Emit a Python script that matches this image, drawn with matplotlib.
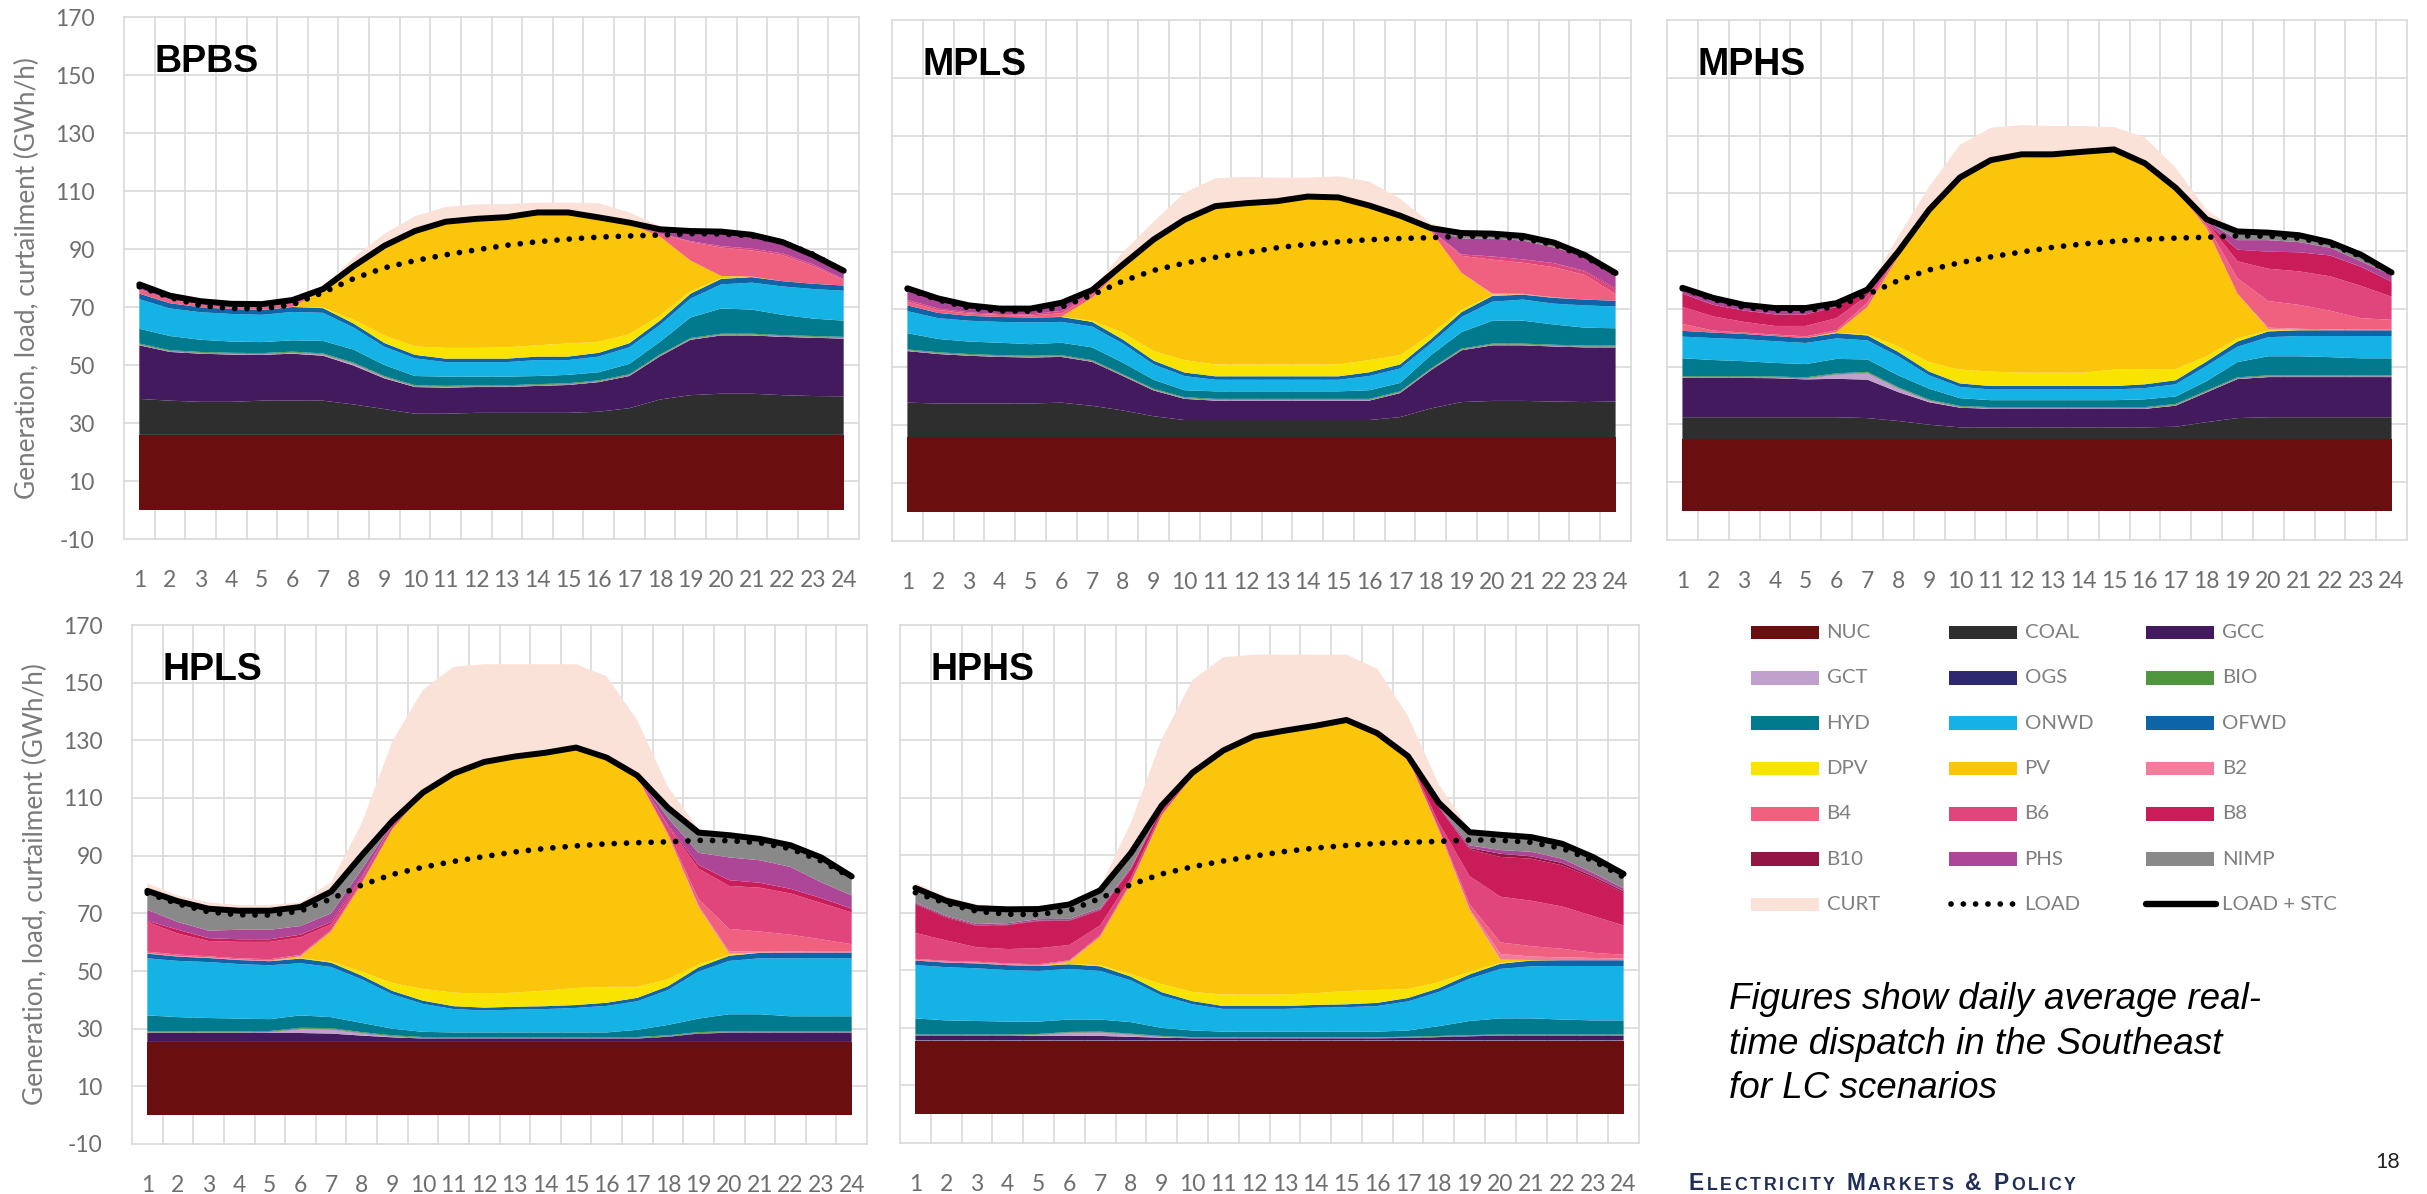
import numpy as np
import matplotlib
matplotlib.use("Agg")
import matplotlib.pyplot as plt
from matplotlib.patches import Rectangle
from matplotlib.lines import Line2D

plt.rcParams["axes.unicode_minus"] = False

W, H = 2427, 1194

HOURS = list(range(1, 25))
TECHS = ["NUC", "COAL", "GCC", "GCT", "OGS", "BIO", "HYD", "ONWD", "OFWD", "DPV", "PV",
         "B2", "B4", "B6", "B8", "B10", "PHS", "NIMP", "CURT"]
COLORS = ["#6b0e10", "#2e2e2e", "#441a5e", "#c0a0cc", "#2e2870", "#50963e", "#027a8e",
          "#15b2e5", "#0d64a6", "#f8e400", "#fbc50c", "#f37c9c", "#f0607f", "#e0457c",
          "#c91c59", "#921544", "#ae4698", "#898989", "#fbe2d8"]

# system load (same in every scenario)
LOAD = [77.0, 73.3, 70.5, 69.5, 69.4, 70.8, 75.0, 79.8, 83.5, 86.0, 88.0, 89.7,
        91.3, 92.5, 93.4, 94.1, 94.5, 94.8, 95.3, 95.2, 94.5, 92.4, 88.2, 82.4]

ZERO = [0] * 24

# ---- BPBS ----
bpbs_nuc = [25.9, 25.9, 25.9, 25.9, 25.9, 25.9, 25.9, 25.9, 25.9, 25.9, 25.9, 25.9,
            25.9, 25.9, 25.9, 25.9, 25.9, 25.9, 25.9, 25.9, 25.9, 25.9, 25.9, 25.9]
bpbs_coal = [12.4, 11.8, 11.4, 11.4, 11.8, 11.8, 11.8, 10.5, 8.9, 7.3, 7.3, 7.6,
             7.6, 7.6, 7.6, 8.0, 9.2, 12.2, 13.7, 14.2, 14.2, 13.7, 13.4, 13.3]
bpbs_gcc = [18.5, 16.8, 16.6, 16.3, 15.8, 16.2, 15.5, 13.4, 10.6, 9.2, 9.0, 8.9,
            8.9, 9.3, 9.6, 10.2, 11.1, 14.9, 19.1, 20.1, 20.1, 20.1, 20.1, 19.9]
bpbs_gct = [0.2, 0.2, 0.2, 0.2, 0.2, 0.3, 0.4, 0.6, 0.4, 0.2, 0.2, 0.2,
            0.2, 0.2, 0.2, 0.2, 0.2, 0.2, 0.2, 0.2, 0.2, 0.2, 0.2, 0.2]
bpbs_ogs = [0.1, 0.1, 0.1, 0.1, 0.1, 0.1, 0.1, 0.1, 0.1, 0.1, 0.1, 0.1,
            0.1, 0.1, 0.1, 0.1, 0.1, 0.1, 0.1, 0.1, 0.1, 0.1, 0.1, 0.1]
bpbs_bio = [0.3, 0.3, 0.3, 0.3, 0.3, 0.3, 0.3, 0.3, 0.3, 0.3, 0.3, 0.3,
            0.3, 0.3, 0.3, 0.3, 0.3, 0.3, 0.3, 0.3, 0.3, 0.3, 0.3, 0.3]
bpbs_hyd = [5.1, 4.9, 4.2, 3.9, 3.8, 3.9, 4.3, 4.5, 3.8, 3.2, 3.2, 3.0,
            3.0, 2.8, 2.9, 2.8, 3.6, 4.4, 7.1, 8.7, 8.3, 7.0, 6.0, 5.6]
bpbs_onwd = [10.2, 9.5, 9.5, 9.5, 9.4, 9.8, 9.7, 7.6, 6.3, 6.1, 5.0, 5.0,
             5.0, 5.5, 5.1, 5.4, 5.7, 5.8, 6.5, 8.3, 9.3, 9.8, 10.2, 10.3]
bpbs_ofwd = [1.9, 1.8, 1.7, 1.7, 1.7, 1.7, 1.6, 1.4, 1.3, 1.2, 1.2, 1.2,
             1.2, 1.2, 1.2, 1.3, 1.4, 1.5, 1.7, 1.9, 1.9, 1.8, 1.8, 1.8]
bpbs_dpv = [0, 0, 0, 0, 0, 0.1, 0.3, 1.3, 2.6, 2.9, 3.7, 3.7,
            3.9, 3.9, 4.5, 3.8, 3.1, 1.8, 0.8, 0.2, 0, 0, 0, 0]
bpbs_pv = [0, 0, 0, 0, 0, 0, 5.8, 18.6, 31.1, 39.8, 43.5, 44.5,
           44.9, 45.8, 45.2, 42.9, 38.1, 27.2, 10.6, 0.8, 0.2, 0, 0, 0]
bpbs_b4 = [1.5, 1.2, 1.0, 0.8, 0.9, 1.2, 0.7, 0.3, 0, 0, 0, 0,
           0, 0, 0, 0, 0, 1.0, 6.4, 9.8, 9.0, 9.0, 6.1, 1.9]
bpbs_b6 = [0, 0, 0, 0, 0, 0, 0, 0, 0, 0, 0, 0,
           0, 0, 0, 0, 0, 0, 0.3, 0.5, 0.6, 0.6, 0.6, 0.3]
bpbs_phs = [1.7, 1.4, 1.1, 1.0, 1.1, 1.3, 0, 0, 0, 0, 0, 0,
            0, 0, 0, 0, 0.4, 1.2, 3.5, 5.0, 4.8, 3.9, 3.2, 2.9]
bpbs_nimp = [0, 0, 0, 0, 0, 0, 0, 0, 0, 0, 0, 0,
             0, 0, 0, 0, 0, 0.3, 0, 0, 0, 0, 0, 0]
bpbs_curt = [0, 0, 0, 0, 0, 0, 0.5, 2.6, 3.9, 5.1, 5.1, 5.0,
             4.5, 3.4, 3.4, 4.9, 3.5, 1.1, 0, 0, 0, 0, 0, 0]
bpbs_stc = [77.8, 73.9, 72.0, 71.1, 71.0, 72.4, 76.2, 84.1, 91.1, 96.2, 99.4, 100.4,
            101.0, 102.6, 102.6, 100.9, 99.1, 96.8, 96.2, 96.0, 94.9, 92.4, 87.9, 82.5]

# ---- MPLS ----
mpls_nuc = bpbs_nuc
mpls_coal = [11.9, 11.6, 11.6, 11.6, 11.6, 11.9, 10.8, 9.2, 7.2, 5.9, 5.9, 5.9,
             5.9, 5.9, 5.9, 5.9, 6.9, 9.9, 12.1, 12.5, 12.5, 12.3, 12.1, 12.3]
mpls_gcc = [17.8, 17.1, 16.5, 16.1, 15.9, 15.8, 15.2, 11.9, 8.9, 7.3, 6.7, 6.7,
            6.7, 6.7, 6.7, 6.7, 8.3, 13.2, 17.9, 19.2, 19.2, 19.0, 18.9, 18.7]
mpls_gct = [0.2, 0.2, 0.2, 0.2, 0.2, 0.2, 0.2, 0.2, 0.2, 0.2, 0.2, 0.2,
            0.2, 0.2, 0.2, 0.2, 0.2, 0.2, 0.2, 0.2, 0.2, 0.2, 0.2, 0.2]
mpls_ogs = bpbs_ogs
mpls_bio = bpbs_bio
mpls_hyd = [5.6, 4.6, 4.3, 4.3, 4.0, 4.3, 4.4, 4.0, 3.1, 2.4, 2.6, 2.6,
            2.6, 2.6, 2.6, 3.0, 2.9, 4.6, 5.7, 7.9, 7.9, 7.0, 6.2, 6.0]
mpls_onwd = [7.6, 7.2, 7.2, 7.2, 7.5, 7.2, 7.2, 6.6, 5.3, 4.9, 4.0, 4.0,
             4.0, 4.0, 4.0, 4.9, 5.0, 4.0, 5.2, 6.6, 7.3, 7.2, 7.7, 7.5]
mpls_ofwd = [2.0, 1.8, 1.7, 1.7, 1.7, 1.7, 1.6, 1.4, 1.3, 1.2, 1.2, 1.2,
             1.2, 1.2, 1.2, 1.3, 1.4, 1.5, 1.7, 2.0, 1.7, 2.0, 2.0, 2.0]
mpls_dpv = [0, 0, 0, 0, 0, 0.1, 0.4, 2.4, 3.3, 4.3, 4.1, 4.1,
            4.1, 4.1, 4.1, 4.2, 3.2, 1.8, 0.9, 0.2, 0, 0, 0, 0]
mpls_pv = [0, 0, 0, 0, 0, 0, 7.9, 22.5, 38.6, 48.5, 54.7, 55.7,
           56.4, 58.0, 57.7, 53.4, 47.6, 35.6, 12.6, 0.3, 0.1, 0, 0, 0]
mpls_b2 = [0, 0, 0, 0, 0, 0, 0, 0, 0, 0, 0, 0,
           0, 0, 0, 0, 0, 0, 0, 0.3, 0.2, 0.2, 0, 0]
mpls_b4 = [1.3, 1.0, 0.8, 0.7, 0.7, 1.2, 1.0, 0.5, 0, 0, 0, 0,
           0, 0, 0, 0, 0, 0.3, 5.9, 11.7, 10.7, 10.4, 8.5, 2.3]
mpls_b6 = [0.6, 0.5, 0.4, 0.3, 0.4, 0.8, 0.7, 0, 0, 0, 0, 0,
           0, 0, 0, 0, 0, 0, 0.5, 1.1, 1.2, 1.4, 1.1, 1.6]
mpls_b8 = [0, 0, 0, 0, 0, 0, 0, 0, 0, 0, 0, 0,
           0, 0, 0, 0, 0, 0, 0, 0, 0, 0, 0.3, 0.4]
mpls_phs = [3.5, 3.0, 2.0, 1.5, 1.6, 2.4, 1.0, 0.5, 0, 0, 0, 0,
            0, 0, 0, 0, 0.3, 0.3, 5.5, 6.2, 6.5, 5.4, 5.1, 5.1]
mpls_nimp = [0.5, 0.5, 0.4, 0.4, 0.4, 0.5, 0, 0, 0, 0, 0, 0,
             0, 0, 0, 0, 0.3, 0.4, 1.9, 1.7, 1.6, 1.7, 0.3, 0.2]
mpls_curt = [0, 0, 0, 0, 0, 0, 0.3, 4.3, 6.2, 9.3, 9.6, 9.1,
             8.1, 6.5, 7.3, 8.3, 5.9, 1.6, 0, 0, 0, 0, 0, 0]
mpls_stc = [77.3, 73.8, 71.4, 70.3, 70.3, 72.3, 76.7, 85.5, 94.2, 101.0, 105.7, 106.7,
            107.4, 109.0, 108.7, 105.9, 102.4, 98.1, 96.4, 96.2, 95.4, 93.1, 88.8, 82.6]

# ---- MPHS ----
mphs_nuc = [24.8, 24.8, 24.8, 24.8, 24.8, 24.8, 24.8, 24.8, 24.8, 24.8, 24.8, 24.8,
            24.8, 24.8, 24.8, 24.8, 24.8, 24.8, 24.8, 24.8, 24.8, 24.8, 24.8, 24.8]
mphs_coal = [7.7, 7.7, 7.7, 7.7, 7.7, 7.7, 7.4, 6.4, 5.1, 4.2, 4.2, 4.2,
             4.2, 4.2, 4.2, 4.2, 4.4, 6.0, 7.4, 7.7, 7.7, 7.7, 7.7, 7.7]
mphs_gcc = [13.6, 13.6, 13.6, 13.5, 13.1, 13.3, 13.3, 10.0, 7.8, 6.8, 6.4, 6.4,
            6.4, 6.4, 6.4, 6.4, 7.3, 10.3, 13.5, 13.9, 13.9, 13.9, 13.9, 13.9]
mphs_gct = [0.2, 0.2, 0.2, 0.2, 0.3, 1.5, 2.3, 1.3, 0.5, 0.2, 0.2, 0.2,
            0.2, 0.2, 0.2, 0.2, 0.2, 0.2, 0.2, 0.2, 0.2, 0.2, 0.2, 0.2]
mphs_ogs = bpbs_ogs
mphs_bio = bpbs_bio
mphs_hyd = [6.2, 5.6, 5.2, 4.7, 4.6, 5.0, 4.3, 4.1, 3.8, 2.7, 2.4, 2.4,
            2.4, 2.4, 2.4, 2.7, 2.6, 3.3, 5.3, 6.6, 6.6, 6.3, 5.9, 5.9]
mphs_onwd = [7.5, 7.6, 7.6, 7.5, 7.3, 7.1, 6.6, 6.6, 4.6, 3.9, 3.7, 3.7,
             3.7, 3.7, 3.7, 3.9, 4.2, 5.3, 5.3, 6.6, 7.0, 7.3, 7.7, 7.7]
mphs_ofwd = [2.0, 1.9, 1.8, 1.8, 1.7, 1.8, 1.7, 1.5, 1.3, 1.2, 1.2, 1.2,
             1.2, 1.2, 1.2, 1.3, 1.4, 1.5, 1.8, 2.0, 2.0, 2.0, 2.0, 2.0]
mphs_dpv = [0, 0, 0, 0, 0, 0.1, 0.4, 1.9, 3.3, 4.8, 5.0, 4.6,
            4.6, 4.6, 5.7, 5.1, 3.9, 1.8, 1.1, 0.3, 0, 0, 0, 0]
mphs_pv = [0, 0, 0, 0, 0, 0.3, 9.5, 31.0, 52.7, 66.5, 72.8, 75.6,
           75.6, 76.5, 76.2, 71.4, 62.4, 44.4, 15.5, 0.5, 0.2, 0, 0, 0]
mphs_b2 = [0, 0, 0, 0, 0, 0, 0, 0, 0, 0, 0, 0,
           0, 0, 0, 0, 0, 0, 0, 0.5, 0.3, 0.3, 0.2, 0.2]
mphs_b4 = [2.4, 0.7, 0.5, 0.5, 0.6, 0.6, 1.5, 0.7, 0, 0, 0.4, 0,
           0, 0, 0, 0, 0.3, 1.0, 5.3, 9.2, 8.3, 6.5, 4.0, 3.4]
mphs_b6 = [5.9, 4.9, 3.7, 3.0, 3.6, 4.2, 2.5, 0.7, 0, 0, 0, 0,
           0, 0, 0, 0, 0, 1.0, 5.9, 11.2, 11.6, 11.9, 11.2, 8.0]
mphs_b8 = [4.6, 4.0, 3.9, 4.0, 4.0, 3.9, 1.5, 0, 0, 0, 0, 0,
           0, 0, 0, 0, 0, 0, 4.0, 5.9, 6.6, 7.2, 6.6, 5.2]
mphs_phs = [1.5, 1.9, 1.5, 1.7, 1.7, 0.8, 0.5, 0.4, 0, 0, 0, 0,
            0, 0, 0, 0, 0, 0.5, 3.3, 4.0, 3.5, 2.7, 1.9, 2.3]
mphs_nimp = [0.5, 0.5, 0.5, 0.5, 0.5, 0.5, 0, 0, 0, 0, 0, 0,
             0, 0, 0, 0, 0, 0.5, 3.0, 2.6, 2.4, 1.9, 2.3, 0.9]
mphs_curt = [0, 0, 0, 0, 0, 0, 0.3, 5.3, 8.0, 11.3, 11.2, 10.1,
             9.8, 8.9, 7.7, 9.0, 6.9, 3.3, 0.2, 0, 0, 0, 0, 0]
mphs_stc = [77.3, 73.8, 71.4, 70.3, 70.3, 72.0, 76.7, 89.8, 104.3, 115.5, 121.5, 123.5,
            123.5, 124.4, 125.2, 120.4, 111.9, 101.0, 96.8, 96.4, 95.5, 93.1, 88.8, 82.6]

# ---- HPLS ----
hpls_nuc = [25.4, 25.4, 25.4, 25.4, 25.4, 25.4, 25.4, 25.4, 25.4, 25.4, 25.4, 25.4,
            25.4, 25.4, 25.4, 25.4, 25.4, 25.4, 25.4, 25.4, 25.4, 25.4, 25.4, 25.4]
hpls_gcc = [3.1, 3.1, 3.1, 3.1, 3.1, 3.1, 2.9, 2.2, 1.6, 1.2, 1.2, 1.2,
            1.2, 1.2, 1.2, 1.2, 1.2, 1.8, 2.9, 3.2, 3.2, 3.2, 3.2, 3.2]
hpls_gct = [0.1, 0.1, 0.1, 0.1, 0.3, 1.4, 1.5, 0.8, 0.3, 0.1, 0.1, 0.1,
            0.1, 0.1, 0.1, 0.1, 0.1, 0.1, 0.1, 0.1, 0.1, 0.1, 0.1, 0.1]
hpls_ogs = bpbs_ogs
hpls_bio = bpbs_bio
hpls_hyd = [5.6, 5.0, 4.7, 4.5, 4.1, 4.3, 3.8, 3.2, 2.3, 1.8, 1.6, 1.6,
            1.6, 1.6, 1.6, 1.6, 2.5, 3.6, 4.7, 5.9, 5.9, 5.2, 5.2, 5.2]
hpls_onwd = [19.8, 19.5, 19.4, 18.9, 18.7, 18.1, 17.4, 15.1, 11.9, 9.7, 8.1, 7.6,
             7.9, 8.1, 8.5, 9.2, 9.9, 12.1, 16.3, 18.5, 19.4, 20.1, 20.1, 20.1]
hpls_ofwd = [1.6, 1.5, 1.4, 1.4, 1.4, 1.6, 1.5, 1.3, 1.2, 1.1, 1.0, 1.0,
             1.0, 1.0, 1.0, 1.1, 1.2, 1.3, 1.5, 1.8, 1.9, 2.0, 2.0, 2.0]
hpls_dpv = [0, 0, 0, 0, 0, 0.1, 0.4, 1.4, 2.7, 4.1, 4.7, 4.8,
            4.9, 5.4, 5.9, 5.5, 3.8, 2.4, 1.0, 0.3, 0, 0, 0, 0]
hpls_pv = [0, 0, 0, 0, 0, 0.6, 10.4, 30.4, 53.5, 67.6, 76.0, 80.4,
           81.9, 82.5, 83.4, 79.5, 72.8, 50.2, 19.9, 0.4, 0.1, 0, 0, 0]
hpls_b2 = [0.2, 0.2, 0.2, 0.2, 0.2, 0.2, 0, 0, 0, 0, 0, 0,
           0, 0, 0, 0, 0, 0, 0.5, 0.8, 0.5, 0.4, 0.3, 0.3]
hpls_b4 = [0.5, 0.5, 0.4, 0.4, 0.5, 0.4, 0.5, 0.5, 0, 0, 0, 0,
           0, 0, 0, 0, 0, 0.5, 2.2, 7.8, 6.8, 5.8, 4.3, 2.6]
hpls_b6 = [10.3, 7.3, 5.3, 5.7, 6.0, 6.1, 2.0, 1.5, 1.5, 0.5, 0, 0,
           0, 0, 0, 0, 0.3, 2.5, 10.6, 14.9, 15.2, 14.3, 12.6, 11.0]
hpls_b8 = [0.4, 1.3, 1.0, 0.9, 0.9, 0.9, 0.8, 0.5, 0, 0, 0, 0,
           0, 0, 0, 0, 0, 0.3, 1.3, 2.0, 1.7, 1.6, 1.7, 1.3]
hpls_phs = [3.8, 2.7, 2.6, 3.3, 3.3, 3.0, 3.0, 2.5, 0.5, 0, 0, 0,
            0, 0, 0, 0, 0.2, 2.5, 4.2, 7.9, 7.8, 7.6, 5.5, 4.6]
hpls_nimp = [6.6, 7.2, 7.6, 6.6, 6.6, 6.6, 7.5, 4.9, 0.7, 0, 0, 0,
             0, 0, 0, 0, 0, 3.5, 7.0, 7.7, 7.4, 7.5, 8.6, 6.6]
hpls_curt = [2.6, 2.0, 2.2, 2.0, 2.0, 1.6, 3.3, 11.2, 27.7, 35.6, 37.0, 33.9,
             32.0, 30.7, 28.9, 28.2, 19.2, 7.3, 1.3, 0.9, 1.2, 1.1, 0.6, 1.2]
hpls_stc = [77.8, 74.2, 71.6, 70.9, 70.9, 72.2, 77.5, 90.1, 102.0, 111.9, 118.5, 122.5,
            124.4, 125.7, 127.5, 124.0, 117.8, 106.6, 98.0, 97.1, 95.8, 93.6, 89.4, 82.8]

# ---- HPHS ----
hphs_nuc = [25.6, 25.6, 25.6, 25.6, 25.6, 25.6, 25.6, 25.6, 25.6, 25.6, 25.6, 25.6,
            25.6, 25.6, 25.6, 25.6, 25.6, 25.6, 25.6, 25.6, 25.6, 25.6, 25.6, 25.6]
hphs_gcc = [1.7, 1.7, 1.7, 1.7, 1.7, 1.7, 1.6, 1.3, 1.0, 0.8, 0.8, 0.8,
            0.8, 0.8, 0.8, 0.8, 0.9, 1.2, 1.5, 1.7, 1.7, 1.7, 1.7, 1.7]
hphs_gct = [0.1, 0.1, 0.1, 0.1, 0.3, 1.0, 1.2, 0.8, 0.3, 0.1, 0.1, 0.1,
            0.1, 0.1, 0.1, 0.1, 0.1, 0.1, 0.1, 0.1, 0.1, 0.1, 0.1, 0.1]
hphs_ogs = bpbs_ogs
hphs_bio = [0.2, 0.2, 0.2, 0.2, 0.2, 0.2, 0.2, 0.2, 0.2, 0.2, 0.2, 0.2,
            0.2, 0.2, 0.2, 0.2, 0.2, 0.2, 0.2, 0.2, 0.2, 0.2, 0.2, 0.2]
hphs_hyd = [5.6, 4.9, 4.7, 4.5, 4.3, 4.3, 4.2, 4.0, 2.8, 2.3, 1.9, 1.9,
            1.9, 1.9, 1.9, 1.9, 2.2, 3.4, 4.9, 5.6, 5.6, 5.2, 4.9, 4.9]
hphs_onwd = [18.5, 18.5, 18.3, 17.9, 17.6, 17.6, 16.9, 14.5, 11.2, 9.1, 7.9, 7.9,
             7.9, 8.3, 8.5, 8.9, 10.1, 11.9, 14.7, 17.2, 18.1, 18.6, 18.9, 18.9]
hphs_ofwd = [1.6, 1.6, 1.7, 1.7, 1.7, 1.6, 1.6, 1.3, 1.2, 1.1, 1.0, 1.0,
             1.0, 1.0, 1.0, 1.1, 1.2, 1.3, 1.5, 1.8, 2.0, 2.0, 2.0, 2.0]
hphs_dpv = [0, 0, 0, 0, 0, 0.1, 0.4, 0.9, 2.8, 3.2, 4.0, 4.0,
            4.0, 4.1, 4.6, 4.5, 3.1, 2.1, 0.9, 0.3, 0, 0, 0, 0]
hphs_pv = [0, 0, 0, 0, 0, 0.8, 9.9, 31.5, 58.8, 75.0, 84.8, 89.8,
           91.7, 92.9, 94.2, 89.2, 80.1, 52.8, 21.4, 1.1, 0.2, 0, 0, 0]
hphs_b2 = [0.3, 0.3, 0.3, 0.3, 0.3, 0.2, 0, 0, 0, 0, 0, 0,
           0, 0, 0, 0, 0, 0, 0.5, 2.0, 1.2, 1.0, 0.8, 0.6]
hphs_b4 = [0.3, 0.3, 0.3, 0.3, 0.3, 0.3, 0.5, 0.5, 0, 0, 0, 0,
           0, 0, 0, 0, 0, 0.5, 1.5, 4.0, 3.6, 3.0, 1.8, 1.3]
hphs_b6 = [9.0, 7.1, 5.0, 5.0, 5.6, 5.3, 3.4, 1.5, 1.0, 0.5, 0, 0,
           0, 0, 0, 0, 0.4, 2.0, 9.8, 15.9, 15.8, 14.7, 12.8, 10.2]
hphs_b8 = [9.9, 7.9, 7.4, 8.3, 9.4, 8.4, 5.3, 3.0, 1.5, 0.7, 0, 0,
           0, 0, 0, 0, 0.4, 5.5, 9.3, 13.8, 14.6, 14.3, 13.2, 11.3]
hphs_b10 = [0.3, 0.3, 0.2, 0.2, 0.2, 0.2, 0.2, 0, 0, 0, 0, 0,
            0, 0, 0, 0, 0, 0, 0.5, 1.1, 0.8, 0.8, 0.6, 0.6]
hphs_phs = [0.4, 0.4, 0.5, 0.5, 0.5, 0.5, 0.5, 0.5, 0, 0, 0, 0,
            0, 0, 0, 0, 0, 0.5, 0.9, 1.3, 1.6, 1.5, 1.2, 1.0]
hphs_nimp = [5.0, 5.2, 5.5, 4.8, 3.5, 5.0, 6.2, 5.1, 0.8, 0, 0, 0,
             0, 0, 0, 0, 0, 1.0, 4.6, 5.3, 5.1, 5.2, 5.5, 5.0]
hphs_curt = [1.8, 1.4, 1.3, 1.0, 0.9, 0.7, 1.1, 10.5, 23.1, 32.2, 32.4, 28.3,
             26.4, 24.7, 22.7, 22.4, 13.9, 6.3, 0.9, 0.8, 0.8, 0.8, 0.8, 0.8]
hphs_stc = [78.6, 74.2, 71.6, 71.2, 71.3, 72.9, 77.8, 90.8, 107.3, 118.7, 126.4, 131.4,
            133.3, 135.0, 137.0, 132.4, 124.4, 108.2, 98.0, 97.1, 96.3, 94.0, 89.4, 83.5]

# stacks in TECHS order
scenarios = {
    "BPBS": ([bpbs_nuc, bpbs_coal, bpbs_gcc, bpbs_gct, bpbs_ogs, bpbs_bio, bpbs_hyd,
              bpbs_onwd, bpbs_ofwd, bpbs_dpv, bpbs_pv, ZERO, bpbs_b4, bpbs_b6, ZERO,
              ZERO, bpbs_phs, bpbs_nimp, bpbs_curt], bpbs_stc),
    "MPLS": ([mpls_nuc, mpls_coal, mpls_gcc, mpls_gct, mpls_ogs, mpls_bio, mpls_hyd,
              mpls_onwd, mpls_ofwd, mpls_dpv, mpls_pv, mpls_b2, mpls_b4, mpls_b6, mpls_b8,
              ZERO, mpls_phs, mpls_nimp, mpls_curt], mpls_stc),
    "MPHS": ([mphs_nuc, mphs_coal, mphs_gcc, mphs_gct, mphs_ogs, mphs_bio, mphs_hyd,
              mphs_onwd, mphs_ofwd, mphs_dpv, mphs_pv, mphs_b2, mphs_b4, mphs_b6, mphs_b8,
              ZERO, mphs_phs, mphs_nimp, mphs_curt], mphs_stc),
    "HPLS": ([hpls_nuc, ZERO, hpls_gcc, hpls_gct, hpls_ogs, hpls_bio, hpls_hyd,
              hpls_onwd, hpls_ofwd, hpls_dpv, hpls_pv, hpls_b2, hpls_b4, hpls_b6, hpls_b8,
              ZERO, hpls_phs, hpls_nimp, hpls_curt], hpls_stc),
    "HPHS": ([hphs_nuc, ZERO, hphs_gcc, hphs_gct, hphs_ogs, hphs_bio, hphs_hyd,
              hphs_onwd, hphs_ofwd, hphs_dpv, hphs_pv, hphs_b2, hphs_b4, hphs_b6, hphs_b8,
              hphs_b10, hphs_phs, hphs_nimp, hphs_curt], hphs_stc),
}

# panel boxes in pixels: left, top, right, bottom, show y labels
panels = {
    "BPBS": (124, 17, 859, 539, True),
    "MPLS": (892, 20, 1631, 541, False),
    "MPHS": (1667, 20, 2407, 540, False),
    "HPLS": (132, 625, 867, 1144, True),
    "HPHS": (900, 625, 1639, 1143, False),
}

TICK_GRAY = "#6e6e6e"
GRID = "#d9d9d9"
LOAD_STYLE = dict(color="black", lw=4.1, linestyle=(0, (0.01, 2.15)), dash_capstyle="round")

fig = plt.figure(figsize=(W / 100, H / 100), dpi=100)

for name, (series, stc) in scenarios.items():
    l, t, r, b, ylab = panels[name]
    ax = fig.add_axes([l / W, 1 - b / H, (r - l) / W, (b - t) / H])
    ax.stackplot(HOURS, *series, colors=COLORS, linewidth=0)
    ax.plot(HOURS, LOAD, **LOAD_STYLE)
    ax.plot(HOURS, stc, color="black", lw=4.3, solid_capstyle="round")
    ax.set_xlim(0.5, 24.5)
    ax.set_ylim(-10, 170)
    ax.set_xticks(HOURS)
    ax.set_xticks(np.arange(0.5, 25, 1), minor=True)
    ax.set_yticks(range(-10, 171, 20))
    ax.set_axisbelow(True)
    ax.grid(which="minor", axis="x", color=GRID, lw=1.2)
    ax.grid(which="major", axis="y", color=GRID, lw=1.2)
    grid_lines = [tk.gridline for tk in ax.xaxis.get_minor_ticks()]
    grid_lines += [tk.gridline for tk in ax.yaxis.get_major_ticks()]
    for gl in grid_lines:
        gl.set_clip_on(False)
    ax.tick_params(which="both", length=0)
    ax.tick_params(axis="x", pad=22, labelsize=16.5, labelcolor=TICK_GRAY)
    ax.tick_params(axis="y", pad=21, labelsize=16.5, labelcolor=TICK_GRAY)
    for lab in ax.get_xticklabels() + ax.get_yticklabels():
        lab.set_family("Lato")
    if not ylab:
        ax.set_yticklabels([])
    for s in ax.spines.values():
        s.set_visible(False)
    ax.text(1.5, 151, name, fontsize=27, fontweight="bold", family="Liberation Sans",
            va="baseline", ha="left")
    if ylab:
        fig.text(((l - 97) / W), 1 - ((t + b) / 2) / H,
                 "Generation, load, curtailment (GWh/h)", rotation=90, ha="center",
                 va="center", fontsize=18.8, color="#7a7a7a", family="Lato")

# legend block, drawn in local pixel coords
lax = fig.add_axes([1660 / W, 0, (W - 1660) / W, (H - 590) / H])
lax.set_xlim(0, W - 1660)
lax.set_ylim(H - 590, 0)
lax.axis("off")
col_x = [90.5, 288.6, 486.2]
for i, (tech, col) in enumerate(zip(TECHS + ["LOAD", "LOAD + STC"], COLORS + [None, None])):
    r, c = divmod(i, 3)
    y = 42.6 + r * 45.3
    x = col_x[c]
    if tech == "LOAD":
        lax.add_line(Line2D([x + 2, x + 64], [y, y], **LOAD_STYLE))
    elif tech == "LOAD + STC":
        lax.add_line(Line2D([x, x + 70], [y, y], color="black", lw=4.6,
                            solid_capstyle="round"))
    else:
        lax.add_patch(Rectangle((x, y - 6.8), 68, 13.6, color=col, lw=0))
    lax.text(x + 76, y, tech, fontsize=14.7, color="#7f7f7f", family="Lato",
             va="center", ha="left")

note = ["Figures show daily average real-", "time dispatch in the Southeast",
        "for LC scenarios"]
for k, line in enumerate(note):
    fig.text(1729 / W, 1 - (1009 + k * 44.6) / H, line, fontsize=26.5, style="italic",
             family="Liberation Sans", va="baseline", ha="left")

fig.text(2388 / W, 1 - 1162 / H, "18", fontsize=15.5, family="Lato", ha="center",
         va="center", color="#222222")

# small-caps footer
renderer = fig.canvas.get_renderer()
x = 1689
for word in "ELECTRICITY MARKETS & POLICY".split(" "):
    for j, ch in enumerate(word):
        size = 16.4 if j == 0 else 12.8
        t = fig.text(x / W, 1 - 1190 / H, ch, fontsize=size, fontweight="bold",
                     family="Liberation Sans", color="#1f2d5a", va="baseline", ha="left")
        x += t.get_window_extent(renderer).width + 2.6
    x += 9

fig.savefig("out.png", dpi=100)
